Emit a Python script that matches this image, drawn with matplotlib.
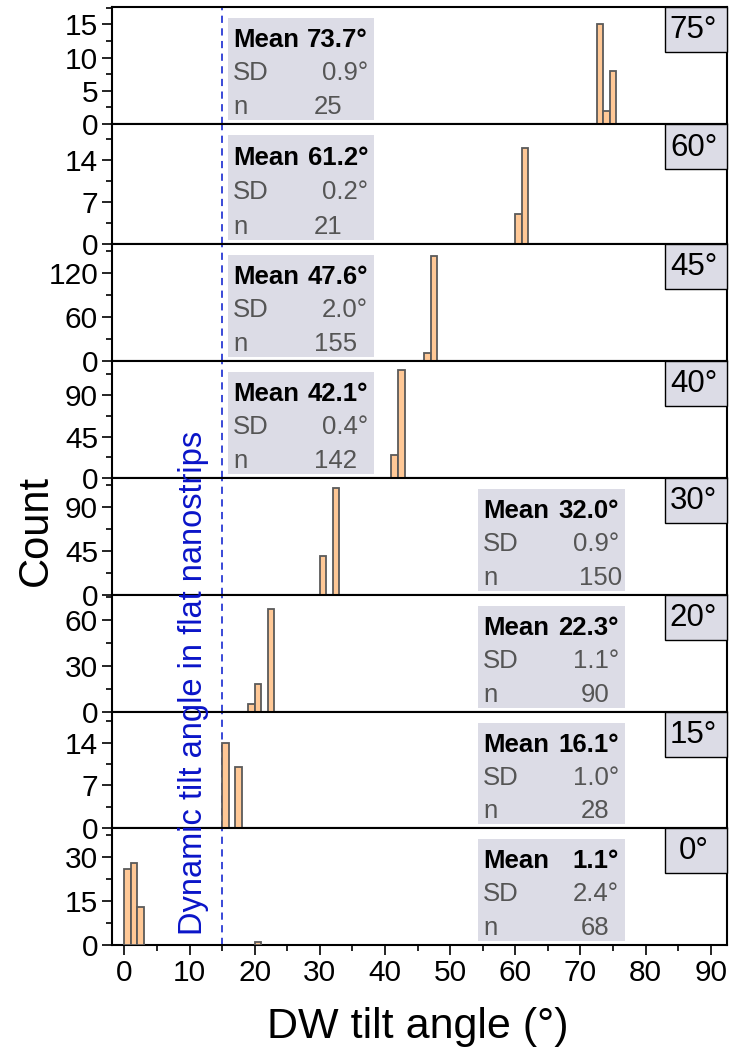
import matplotlib
matplotlib.use("Agg")
import matplotlib.pyplot as plt
from matplotlib.patches import Rectangle
from matplotlib.transforms import blended_transform_factory
from matplotlib.ticker import MultipleLocator

plt.rcParams['font.family'] = ['Liberation Sans', 'DejaVu Sans']

# Patterned stripe angle of each panel, top to bottom
angles = ["75°", "60°", "45°", "40°", "30°", "20°", "15°", "0°"]

# Histogram bins (left edges, 1° wide) and counts per panel
bin_left = [
    [72.5, 73.5, 74.5],
    [60, 61],
    [46, 47],
    [41, 42],
    [30, 32],
    [19, 20, 22],
    [15, 17],
    [0, 1, 2, 20],
]
counts = [
    [15, 2, 8],
    [5, 16],
    [11, 144],
    [25, 117],
    [40, 110],
    [5, 18, 67],
    [14, 10],
    [26, 28, 13, 1],
]

# Summary statistics
means = [73.7, 61.2, 47.6, 42.1, 32.0, 22.3, 16.1, 1.1]
sds = [0.9, 0.2, 2.0, 0.4, 0.9, 1.1, 1.0, 2.4]
ns = [25, 21, 155, 142, 150, 90, 28, 68]

# Y axis ranges and tick steps
ymax = [17.6, 20, 160, 127, 120, 76, 19, 40]
ystep = [5, 7, 60, 45, 45, 30, 7, 15]
ynticks = [4, 3, 3, 3, 3, 3, 3, 3]

flat_angle = 15.0  # dynamic tilt angle in flat nanostrips

W, H = 730, 1055
fig = plt.figure(figsize=(W / 100, H / 100), dpi=100)

left_px, right_px = 112, 727
edges_px = [7, 124, 244, 361, 478, 595, 712, 828, 945]

bar_face = '#FFC896'
bar_edge = '#5a5a5a'
box_color = '#DCDCE6'
gray = '#555555'
blue_line = '#2a3ad4'
blue_text = '#0a14c8'
stat_fs = 18.5

axes = []
for i in range(len(angles)):
    top, bot = edges_px[i], edges_px[i + 1]
    ax = fig.add_axes([left_px / W, 1 - bot / H, (right_px - left_px) / W, (bot - top) / H])
    axes.append(ax)

    ax.bar(bin_left[i], counts[i], width=1.0, align='edge',
           color=bar_face, edgecolor=bar_edge, linewidth=1.3, zorder=3)
    ax.axvline(flat_angle, color=blue_line, lw=1.3, ls=(0, (4, 3)), zorder=2)

    ax.set_xlim(-1.9, 92.5)
    ax.set_ylim(0, ymax[i])
    ax.set_yticks([ystep[i] * k for k in range(ynticks[i])])
    ax.yaxis.set_minor_locator(MultipleLocator(ystep[i] / 2))
    ax.xaxis.set_major_locator(MultipleLocator(10))
    ax.xaxis.set_minor_locator(MultipleLocator(5))
    ax.tick_params(axis='both', which='major', direction='out', length=7, width=1.2,
                   labelsize=21.5, pad=3)
    ax.tick_params(axis='both', which='minor', direction='out', length=4, width=1.2)
    ax.tick_params(axis='y', which='both', right=False)
    ax.tick_params(axis='x', which='both', top=False)
    if i < len(angles) - 1:
        ax.tick_params(axis='x', labelbottom=False)
    for s in ax.spines.values():
        s.set_linewidth(1.5)

    # statistics box
    upper = i < 4
    if upper:
        bx0, bx1 = 15.95, 38.3
    else:
        bx0, bx1 = 54.3, 76.8
    tr = blended_transform_factory(ax.transData, ax.transAxes)
    ax.add_patch(Rectangle((bx0, 0.035), bx1 - bx0, 0.87, transform=tr,
                           facecolor=box_color, edgecolor='none', zorder=1))
    xl = bx0 + 0.75
    xr = bx1 - 0.9
    ax.text(xl, 0.715, "Mean", transform=tr, ha='left', va='center',
            fontsize=stat_fs, fontweight='bold', color='black', zorder=4)
    ax.text(xr, 0.715, f"{means[i]:.1f}°", transform=tr, ha='right', va='center',
            fontsize=stat_fs, fontweight='bold', color='black', zorder=4)
    ax.text(xl, 0.435, "SD", transform=tr, ha='left', va='center',
            fontsize=stat_fs, color=gray, zorder=4)
    ax.text(xr, 0.435, f"{sds[i]:.1f}°", transform=tr, ha='right', va='center',
            fontsize=stat_fs, color=gray, zorder=4)
    ax.text(xl, 0.145, "n", transform=tr, ha='left', va='center',
            fontsize=stat_fs, color=gray, zorder=4)
    if upper:
        nshift = 2.6 if ns[i] >= 100 else 4.9
    else:
        nshift = 0.4 if ns[i] >= 100 else 2.3
    ax.text(bx1 - nshift, 0.145, f"{ns[i]}", transform=tr, ha='right', va='center',
            fontsize=stat_fs, color=gray, zorder=4)

    # angle label at the top right corner
    lx0 = (665 - left_px) / (right_px - left_px)
    lh = 45 / (bot - top)
    ax.add_patch(Rectangle((lx0, 1 - lh), 1 - lx0, lh, transform=ax.transAxes,
                           facecolor=box_color, edgecolor='black', linewidth=1.0,
                           zorder=5, clip_on=False))
    ax.text((lx0 + 1) / 2 - 0.004, 1 - 0.2, angles[i], transform=ax.transAxes,
            ha='center', va='center', fontsize=22.5, color='black', zorder=6)

# rotated label next to the dashed reference line
btr = blended_transform_factory(axes[-1].transData, fig.transFigure)
fig.text(10.6, 1 - 683 / H, "Dynamic tilt angle in flat nanostrips", transform=btr,
         rotation=90, ha='center', va='center', fontsize=23.5, color=blue_text)

fig.text(36 / W, 1 - 530 / H, "Count", rotation=90, ha='center', va='center', fontsize=30)
fig.text(418 / W, 1 - 1027 / H, "DW tilt angle (°)", ha='center', va='center', fontsize=31)

fig.savefig("out.png", dpi=100)
